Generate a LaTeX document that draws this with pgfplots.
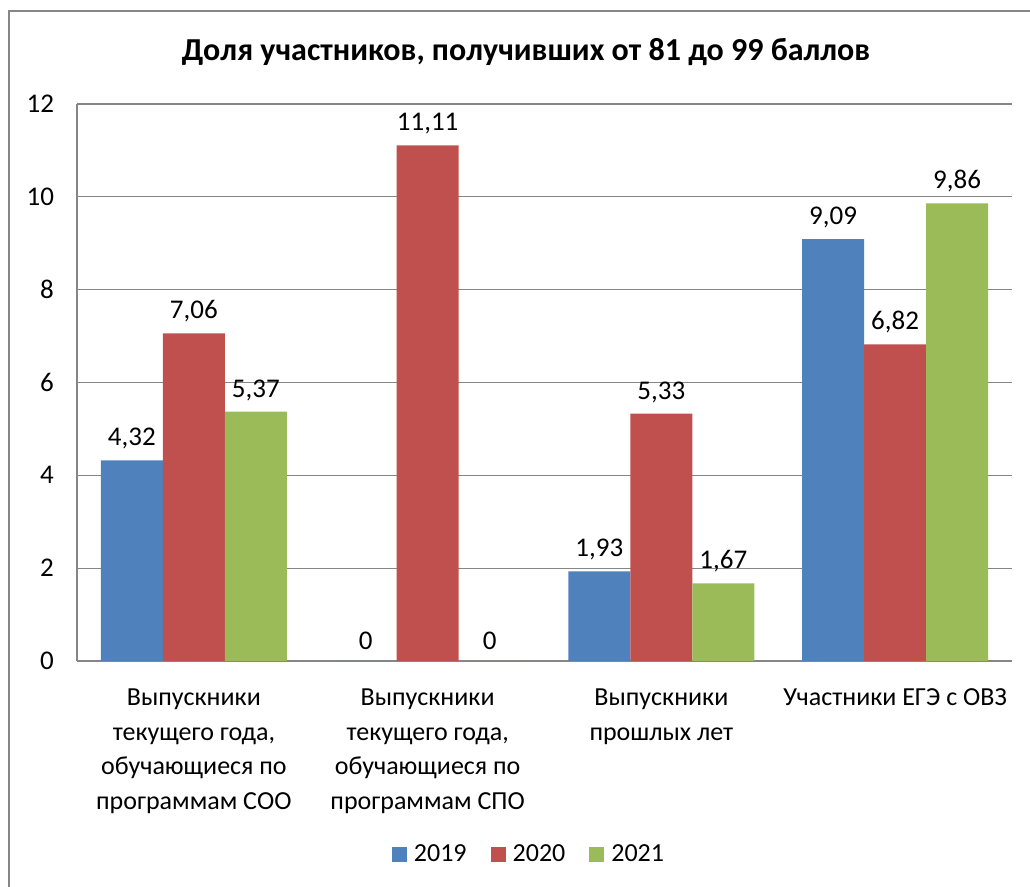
\documentclass[border=0pt]{standalone}
\usepackage{fontspec}
\setmainfont{Carlito}
\usepackage{pgfplots}
\pgfplotsset{compat=1.18}
\definecolor{cb}{HTML}{4F81BD}
\definecolor{cr}{HTML}{C0504D}
\definecolor{cg}{HTML}{9BBB59}
\definecolor{gridc}{HTML}{868686}
\begin{document}
\begin{tikzpicture}[x=1pt,y=1pt]
\useasboundingbox (0,0) rectangle (515,443.5);
\draw[gridc, line width=0.6pt] (4.5,-20) rectangle (540,438);
\node[font=\fontsize{16}{19}\selectfont\bfseries] at (263,417.5) {Доля участников, получивших от 81 до 99 баллов};
\begin{axis}[
  at={(38.5pt,113pt)}, anchor=south west,
  scale only axis, width=467.5pt, height=278.5pt,
  ymin=0, ymax=12, ytick={0,2,...,12},
  xmin=-0.5, xmax=3.5, xtick={0,1,2,3},
  xticklabels={{Выпускники\\текущего года,\\обучающиеся по\\программам СОО},{Выпускники\\текущего года,\\обучающиеся по\\программам СПО},{Выпускники\\прошлых лет},{Участники ЕГЭ с ОВЗ}},
  ybar=0pt, bar width=31pt,
  every axis plot/.append style={legend image code/.code={\fill[##1] (0pt,-3.75pt) rectangle (7.5pt,3.75pt);}},
  axis x line*=bottom, axis y line*=left,
  axis line style={gridc, line width=0.6pt, -},
  ymajorgrids, major grid style={gridc, line width=0.6pt},
  major tick length=0pt,
  /pgf/number format/assume math mode=true,
  /pgf/number format/use comma, /pgf/number format/fixed, /pgf/number format/precision=2,
  yticklabel style={font=\fontsize{13.5}{17}\selectfont, xshift=-8pt},
  xticklabel style={font=\fontsize{13}{17.3}\selectfont, align=center, anchor=north, yshift=-10.5pt},
  nodes near coords,
  nodes near coords style={font=\fontsize{13.5}{17}\selectfont, anchor=south, yshift=2pt},
  legend columns=3,
  legend style={draw=none, at={(0.4845,-0.3483)}, anchor=center, font=\fontsize{13}{17}\selectfont,
    /tikz/every even column/.append style={column sep=10pt},
    /tikz/every odd column/.append style={column sep=1.5pt}},
]
\addplot[fill=cb, draw=none] coordinates {(0,4.32) (1,0) (2,1.93) (3,9.09)};
\addplot[fill=cr, draw=none] coordinates {(0,7.06) (1,11.11) (2,5.33) (3,6.82)};
\addplot[fill=cg, draw=none] coordinates {(0,5.37) (1,0) (2,1.67) (3,9.86)};
\legend{2019,2020,2021}
\end{axis}
\end{tikzpicture}
\end{document}
